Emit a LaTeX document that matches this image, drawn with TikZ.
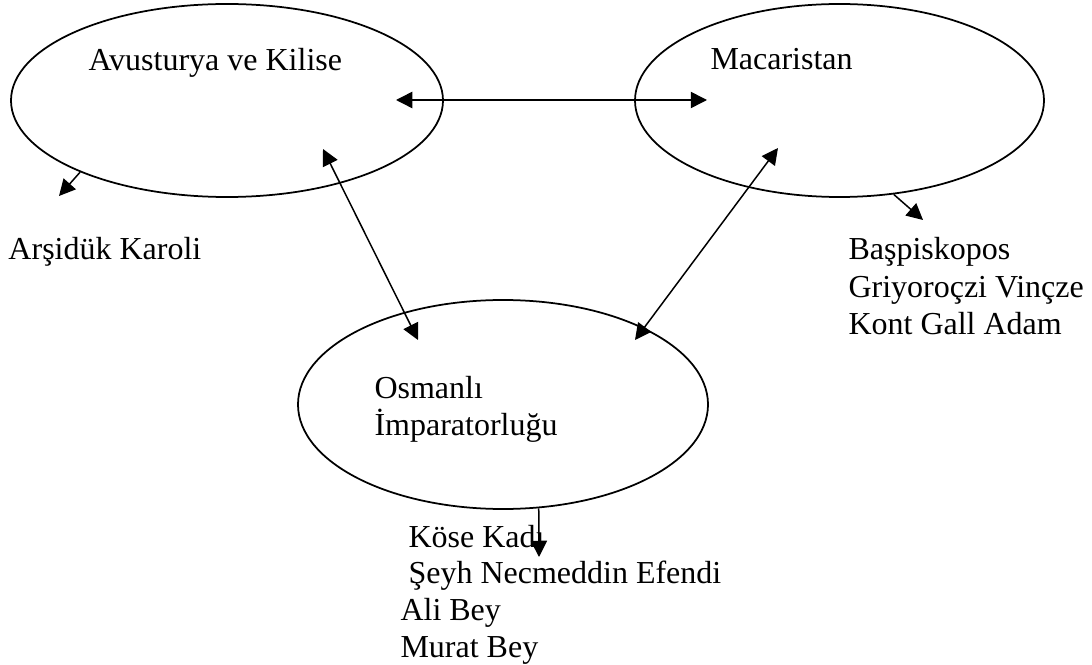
\documentclass[tikz,border=0pt]{standalone}
\usepackage{fontspec}
\setmainfont{Liberation Serif}
\usepackage{tikz}
\usetikzlibrary{arrows.meta,shapes.geometric}

\begin{document}
\begin{tikzpicture}[x=0.4pt,y=-0.4pt,
                every node/.style={font=\fontsize{12.8}{15}\selectfont},
                state/.style={draw, ellipse, line width=0.7pt, inner sep=0pt},
                lbl/.style={anchor=base west, inner sep=0pt},
                onearr/.style={line width=0.6pt, -{Triangle[length=6.5pt,width=6.5pt]}},
                twoarr/.style={line width=0.6pt, {Triangle[length=6.5pt,width=6.5pt]}-{Triangle[length=6.5pt,width=6.5pt]}}]
                % Frame
                \useasboundingbox (0,0) rectangle (1092,665);
                
                % Ellipses
                \node[state, minimum width=172.8pt, minimum height=77.2pt] (avus) at (227,100.5) {};
                \node[state, minimum width=163.6pt, minimum height=77.2pt] (macar) at (839.5,100.5) {};
                \node[state, minimum width=164pt, minimum height=83.6pt] (osman) at (503,404.5) {};
                
                % Names inside the ellipses
                \node[lbl] (avusT) at (88,71) {Avusturya ve Kilise};
                \node[lbl] (macarT) at (710,70) {Macaristan};
                \node[lbl] (osmanT) at (374,398) {Osmanlı};
                \node[lbl] (osmanTT) at (374,435) {İmparatorluğu};
                
                % Persons
                \node[lbl] (karoli) at (8,260) {Arşidük Karoli};
                \node[lbl] (basp) at (848,260) {Başpiskopos};
                \node[lbl] (griy) at (848,297) {Griyoroçzi Vinçze};
                \node[lbl] (kont) at (848,334) {Kont Gall Adam};
                \node[lbl] (kose) at (408,547) {Köse Kadı};
                \node[lbl] (seyh) at (408,583) {Şeyh Necmeddin Efendi};
                \node[lbl] (ali) at (400,620) {Ali Bey};
                \node[lbl] (murat) at (400,657) {Murat Bey};
                
                % Arrow ends
                \coordinate (avusIn) at (396,100);
                \coordinate (macarIn) at (707,100);
                \coordinate (avusLow) at (323,149);
                \coordinate (osmanL) at (418,340);
                \coordinate (macarLow) at (778,148);
                \coordinate (osmanR) at (635,340);
                \coordinate (karoliTip) at (59,196);
                \coordinate (baspTip) at (923,220);
                \coordinate (koseTip) at (539,557);
                
                % Links between the ellipses
                \draw[twoarr] (avusIn) -- (macarIn);
                \draw[twoarr] (avusLow) -- (osmanL);
                \draw[twoarr] (macarLow) -- (osmanR);
                
                % Links to the persons
                \draw[onearr] (avus.206) -- (karoliTip);
                \draw[onearr] (macar.-60) -- (baspTip);
                \draw[onearr] (osman.-71) -- (koseTip);
\end{tikzpicture}
\end{document}
